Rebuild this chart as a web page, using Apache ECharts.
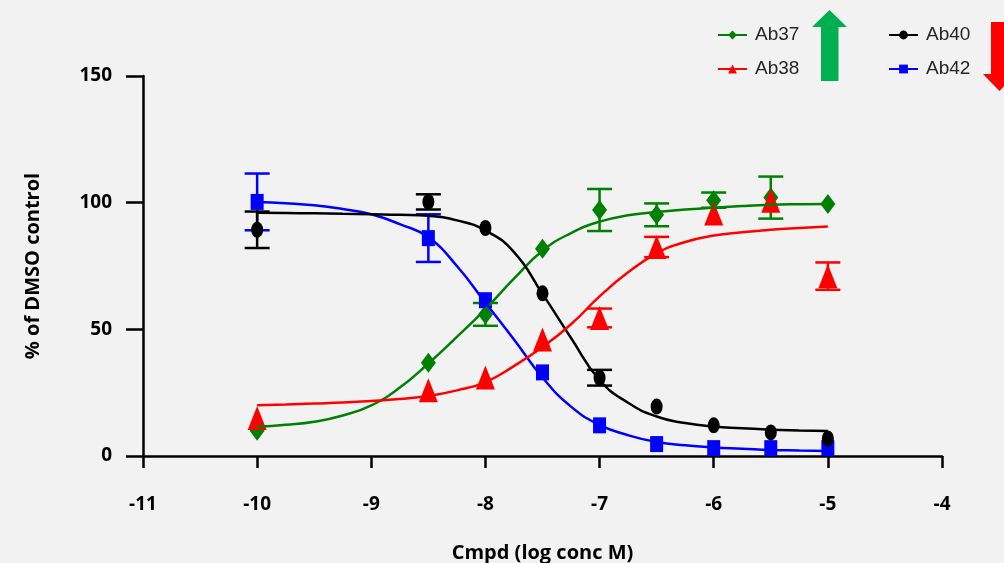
<!DOCTYPE html>
<html>
<head>
<meta charset="utf-8">
<script src="https://cdn.jsdelivr.net/npm/echarts@6/dist/echarts.min.js"></script>
<style>
  html, body { margin: 0; padding: 0; background: #f2f2f2; }
  #chart { width: 1004px; height: 563px; }
</style>
</head>
<body>
<div id="chart"></div>
<script>
// measured concentrations (log M)
const doses = [-10, -8.5, -8, -7.5, -7, -6.5, -6, -5.5, -5];

// means and SEM
const ab37Mean = [10, 36.8, 55.9, 81.8, 97.1, 95.2, 101, 102, 99.5];
const ab37Err = [0, 0, 4.5, 0, 8.3, 4.5, 3, 8.3, 0];
const ab38Mean = [15, 26, 31, 46, 54.5, 82.5, 95.7, 100.8, 71];
const ab38Err = [0, 0, 0, 0, 3.7, 4, 0, 0, 5.4];
const ab40Mean = [89.3, 100.3, 90, 64.2, 30.9, 19.5, 12.1, 9.3, 6.9];
const ab40Err = [7.2, 3, 0, 0, 3.1, 0, 0, 0, 0];
const ab42Mean = [100.3, 86, 61.5, 33, 12.1, 4.7, 3.1, 3.1, 3.1];
const ab42Err = [11.2, 9.4, 0, 0, 0, 0, 0, 0, 0];

// fitted curves, every 0.25 log units
const curveX = [-10, -9.75, -9.5, -9.25, -9, -8.75, -8.5, -8.25, -8, -7.75, -7.5, -7.25, -7,
  -6.75, -6.5, -6.25, -6, -5.75, -5.5, -5.25, -5];
const ab37Fit = [11.5, 12.3, 13.5, 16, 20, 27, 36.5, 47, 58, 70, 81, 88, 92.5,
  95, 96.3, 97.3, 98, 98.7, 99.2, 99.4, 99.5];
const ab38Fit = [20, 20.3, 20.7, 21.1, 21.7, 22.5, 23.7, 25.9, 29.2, 35.5, 43, 52, 63,
  72.5, 80, 84.5, 87, 88.3, 89.3, 90, 90.6];
const ab40Fit = [96, 95.9, 95.8, 95.6, 95.4, 95.2, 94.8, 93, 89, 80.5, 64, 46.6, 30,
  21, 15.6, 13, 11.6, 11, 10.4, 10.1, 9.9];
const ab42Fit = [100.3, 99.8, 99, 97.5, 95.4, 91.5, 86.3, 75, 60.5, 46, 31, 19.5, 12.3,
  8.2, 5.5, 4.2, 3.4, 2.9, 2.4, 2.2, 2];

const xTicks = [-11, -10, -9, -8, -7, -6, -5, -4];
const yTicks = [0, 50, 100, 150];

const pairs = (xs, ys) => xs.map((x, i) => [x, ys[i]]);
const triples = (xs, ys, es) => xs.map((x, i) => [x, ys[i], es[i]]);

function curve(name, color, symbol, fit) {
  return {
    name: name,
    type: 'line',
    data: pairs(curveX, fit),
    smooth: 0.5,
    symbol: symbol,
    showSymbol: false,
    silent: true,
    lineStyle: { color: color, width: 2.5 },
    itemStyle: { color: color }
  };
}

function points(name, color, symbol, size, mean) {
  return {
    name: name + ' pts',
    type: 'scatter',
    data: pairs(doses, mean),
    symbol: symbol,
    symbolSize: size,
    silent: true,
    itemStyle: { color: color, opacity: 1 }
  };
}

function errorBars(name, color, mean, err) {
  return {
    name: name + ' err',
    type: 'custom',
    silent: true,
    data: triples(doses, mean, err),
    renderItem: function (params, api) {
      const e = api.value(2);
      if (!e) return null;
      const x = api.value(0);
      const top = api.coord([x, api.value(1) + e]);
      const bot = api.coord([x, api.value(1) - e]);
      const hw = 12.5;
      const style = { stroke: color, lineWidth: 2.5 };
      return {
        type: 'group',
        children: [
          { type: 'line', shape: { x1: top[0], y1: top[1], x2: bot[0], y2: bot[1] }, style: style },
          { type: 'line', shape: { x1: top[0] - hw, y1: top[1], x2: top[0] + hw, y2: top[1] }, style: style },
          { type: 'line', shape: { x1: bot[0] - hw, y1: bot[1], x2: bot[0] + hw, y2: bot[1] }, style: style }
        ]
      };
    }
  };
}

const GREEN = '#008000', RED = '#ff0000', BLACK = '#000000', BLUE = '#0000ff';
const labelFont = { fontFamily: 'Open Sans', fontWeight: 'bold', fontSize: 19, color: '#000' };
const nameFont = { fontFamily: 'Open Sans', fontWeight: 'bold', fontSize: 20, color: '#000' };
const legendText = { fontFamily: 'Liberation Sans', fontSize: 19, color: '#262626', lineHeight: 22, padding: [0, 0, 0, 3] };

const chart = echarts.init(document.getElementById('chart'));
chart.setOption({
  backgroundColor: '#f2f2f2',
  animation: false,
  grid: { left: 143, right: 62, top: 76, bottom: 107, outerBoundsMode: 'none', containLabel: false },
  xAxis: {
    type: 'value',
    min: xTicks[0],
    max: xTicks[xTicks.length - 1],
    interval: 1,
    name: 'Cmpd (log conc M)',
    nameLocation: 'middle',
    nameGap: 87,
    nameTextStyle: nameFont,
    axisLine: { onZero: false, lineStyle: { color: '#000', width: 2.5 } },
    axisTick: { show: true, length: 12, lineStyle: { color: '#000', width: 2.5 } },
    axisLabel: Object.assign({ margin: 39 }, labelFont),
    splitLine: { show: false }
  },
  yAxis: {
    type: 'value',
    min: yTicks[0],
    max: yTicks[yTicks.length - 1],
    interval: 50,
    name: '% of DMSO control',
    nameLocation: 'middle',
    nameGap: 100,
    nameTextStyle: nameFont,
    axisLine: { show: true, lineStyle: { color: '#000', width: 2.5 } },
    axisTick: { show: true, length: 17, lineStyle: { color: '#000', width: 2.5 } },
    axisLabel: Object.assign({ margin: 31 }, labelFont),
    splitLine: { show: false }
  },
  legend: [
    {
      data: ['Ab37', 'Ab38'],
      orient: 'vertical',
      left: 712,
      top: 19,
      itemWidth: 29,
      itemHeight: 11,
      itemGap: 12,
      textStyle: legendText,
      selectedMode: false
    },
    {
      data: ['Ab40', 'Ab42'],
      orient: 'vertical',
      left: 883,
      top: 19,
      itemWidth: 29,
      itemHeight: 11,
      itemGap: 12,
      textStyle: legendText,
      selectedMode: false
    }
  ],
  graphic: [
    {
      type: 'polygon',
      shape: { points: [[829.5, 10], [847, 27], [838.5, 27], [838.5, 81], [821, 81], [821, 27], [812, 27]] },
      style: { fill: '#00b050' }
    },
    {
      type: 'polygon',
      shape: { points: [[991, 22], [1008, 22], [1008, 74], [1016, 74], [999.5, 91], [983, 74], [991, 74]] },
      style: { fill: '#ff0000' }
    }
  ],
  series: [
    curve('Ab37', GREEN, 'diamond', ab37Fit),
    errorBars('Ab37', GREEN, ab37Mean, ab37Err),
    points('Ab37', GREEN, 'diamond', [15, 20], ab37Mean),
    curve('Ab42', BLUE, 'rect', ab42Fit),
    errorBars('Ab42', BLUE, ab42Mean, ab42Err),
    points('Ab42', BLUE, 'rect', [13, 16], ab42Mean),
    curve('Ab40', BLACK, 'circle', ab40Fit),
    errorBars('Ab40', BLACK, ab40Mean, ab40Err),
    points('Ab40', BLACK, 'circle', [12, 16], ab40Mean),
    curve('Ab38', RED, 'triangle', ab38Fit),
    errorBars('Ab38', RED, ab38Mean, ab38Err),
    points('Ab38', RED, 'triangle', [19, 24], ab38Mean)
  ]
});
</script>
</body>
</html>
